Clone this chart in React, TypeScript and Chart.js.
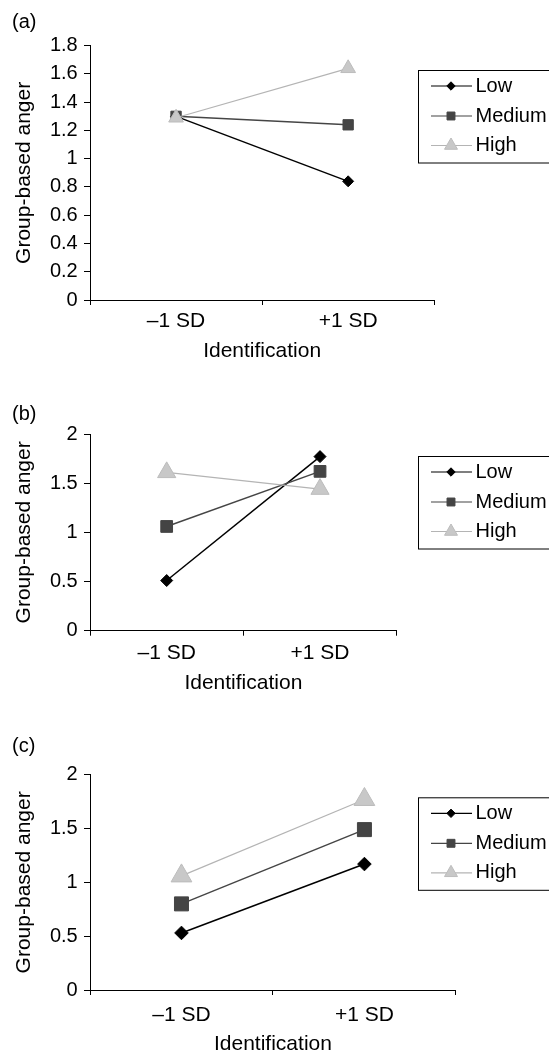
import React, { useEffect, useRef } from 'react';
import { Chart, registerables } from 'chart.js';

Chart.register(...registerables);

// ---------- data ----------
const CATEGORIES = ['\u20131 SD', '+1 SD'];
const SERIES_NAMES = ['Low', 'Medium', 'High'];
const X_TITLE = 'Identification';
const Y_TITLE = 'Group-based anger';
const PANEL_LABELS = ['(a)', '(b)', '(c)'];

const A_LOW = [1.3, 0.84];
const A_MEDIUM = [1.3, 1.24];
const A_HIGH = [1.29, 1.64];

const B_LOW = [0.51, 1.77];
const B_MEDIUM = [1.06, 1.62];
const B_HIGH = [1.61, 1.44];

const C_LOW = [0.53, 1.17];
const C_MEDIUM = [0.8, 1.49];
const C_HIGH = [1.06, 1.77];

const A_Y_TICKS = [0, 0.2, 0.4, 0.6, 0.8, 1, 1.2, 1.4, 1.6, 1.8];
const BC_Y_TICKS = [0, 0.5, 1, 1.5, 2];

// ---------- styles ----------
const FONT = '"Liberation Sans", Arial, Helvetica, sans-serif';
const PAGE_W = 549;

const STYLES = [
  { style: 'rectRot', line: '#000000', width: 1.5, fill: '#000000', stroke: '#000000', order: 2, legendR: 4.2 },
  { style: 'rect', line: '#454545', width: 1.5, fill: '#444444', stroke: '#444444', order: 1, legendR: 5.6 },
  { style: 'triangle', line: '#b4b4b4', width: 1.2, fill: '#c8c8c8', stroke: '#bcbcbc', order: 0, legendR: 7.5 },
];

const PANELS = [
  {
    label: PANEL_LABELS[0], series: [A_LOW, A_MEDIUM, A_HIGH], yTicks: A_Y_TICKS,
    top: 0, height: 370, areaTop: 45.7, areaBottom: 300, areaRight: 434.2,
    xTickPad: 3.8, titlePad: 7.8, legendTop: 70, labelTop: 10.5, radii: [5.5, 7.3, 8.5],
  },
  {
    label: PANEL_LABELS[1], series: [B_LOW, B_MEDIUM, B_HIGH], yTicks: BC_Y_TICKS,
    top: 370, height: 330, areaTop: 434, areaBottom: 630.7, areaRight: 396.7,
    xTickPad: 4.8, titlePad: 6.5, legendTop: 456, labelTop: 32.5, radii: [6, 8.3, 10.5],
  },
  {
    label: PANEL_LABELS[2], series: [C_LOW, C_MEDIUM, C_HIGH], yTicks: BC_Y_TICKS,
    top: 700, height: 355, areaTop: 774.7, areaBottom: 990, areaRight: 455.9,
    xTickPad: 7.2, titlePad: 0.2, legendTop: 797.3, labelTop: 34.5, radii: [6.8, 9.9, 12],
  },
];

const LEGEND_ROWS = [16, 46, 75.5];
const LEGEND_H = 92.5;

function drawMarker(ctx: CanvasRenderingContext2D, style: string, x: number, y: number, r: number, fill: string, stroke: string) {
  ctx.beginPath();
  if (style === 'rectRot') {
    ctx.moveTo(x, y - r);
    ctx.lineTo(x + r, y);
    ctx.lineTo(x, y + r);
    ctx.lineTo(x - r, y);
  } else if (style === 'rect') {
    const s = Math.SQRT1_2 * r;
    ctx.rect(x - s, y - s, 2 * s, 2 * s);
  } else {
    for (let k = 0; k < 3; k++) {
      const a = (k * 2 * Math.PI) / 3;
      const px = x + Math.sin(a) * r;
      const py = y - Math.cos(a) * r;
      if (k === 0) ctx.moveTo(px, py);
      else ctx.lineTo(px, py);
    }
  }
  ctx.closePath();
  ctx.fillStyle = fill;
  ctx.fill();
  ctx.strokeStyle = stroke;
  ctx.lineWidth = 1;
  ctx.stroke();
}

function fmt(v: number) {
  return String(Number(Number(v).toFixed(2)));
}

function Panel({ p }: { p: (typeof PANELS)[number] }) {
  const ref = useRef<HTMLCanvasElement | null>(null);
  useEffect(() => {
    if (!ref.current) return;
    const legendTop = p.legendTop - p.top;
    const legendPlugin = {
      id: 'boxLegend',
      afterDraw(chart: any) {
        const ctx = chart.ctx as CanvasRenderingContext2D;
        ctx.save();
        ctx.strokeStyle = '#000';
        ctx.lineWidth = 1;
        ctx.strokeRect(418.5, legendTop + 0.5, 200, LEGEND_H);
        chart.data.datasets.forEach((ds: any, i: number) => {
          const y = legendTop + LEGEND_ROWS[i];
          ctx.beginPath();
          ctx.strokeStyle = ds.borderColor;
          ctx.lineWidth = 1.2;
          ctx.moveTo(431, y);
          ctx.lineTo(472, y);
          ctx.stroke();
          drawMarker(ctx, ds.pointStyle, 451, y, STYLES[i].legendR, ds.pointBackgroundColor, ds.pointBorderColor);
          ctx.fillStyle = '#000';
          ctx.font = `20px ${FONT}`;
          ctx.textAlign = 'left';
          ctx.textBaseline = 'middle';
          ctx.fillText(ds.label, 475.5, y);
        });
        ctx.restore();
      },
    };
    const chart = new Chart(ref.current, {
      type: 'line',
      data: {
        labels: CATEGORIES,
        datasets: SERIES_NAMES.map((name, i) => ({
          label: name,
          data: p.series[i],
          borderColor: STYLES[i].line,
          borderWidth: STYLES[i].width,
          pointStyle: STYLES[i].style as any,
          pointRadius: p.radii[i],
          pointBackgroundColor: STYLES[i].fill,
          pointBorderColor: STYLES[i].stroke,
          pointBorderWidth: 1,
          tension: 0,
          order: STYLES[i].order,
          clip: false as any,
        })),
      },
      options: {
        responsive: false,
        animation: false,
        events: [],
        layout: {
          padding: { top: p.areaTop - p.top, right: PAGE_W - p.areaRight, left: 0, bottom: 0 },
        },
        plugins: {
          legend: { display: false },
          tooltip: { enabled: false },
          title: { display: false },
        },
        scales: {
          x: {
            type: 'category',
            offset: true,
            grid: { offset: true, drawOnChartArea: false, drawTicks: true, tickLength: 5, color: '#000', lineWidth: 1 },
            border: { display: true, color: '#000', width: 1 },
            ticks: {
              color: '#000',
              font: { family: FONT, size: 21, lineHeight: 1.2 },
              padding: p.xTickPad,
              maxRotation: 0,
              autoSkip: false,
            },
            title: {
              display: true,
              text: X_TITLE,
              color: '#000',
              font: { family: FONT, size: 21, lineHeight: 1 },
              padding: { top: 0, bottom: p.titlePad },
            },
            afterFit: (s: any) => {
              s.height = p.height - (p.areaBottom - p.top);
            },
          },
          y: {
            type: 'linear',
            min: p.yTicks[0],
            max: p.yTicks[p.yTicks.length - 1],
            afterBuildTicks: (s: any) => {
              s.ticks = p.yTicks.map((v) => ({ value: v }));
            },
            grid: { drawOnChartArea: false, drawTicks: true, tickLength: 6, color: '#000', lineWidth: 1 },
            border: { display: true, color: '#000', width: 1 },
            ticks: {
              color: '#000',
              font: { family: FONT, size: 20 },
              padding: 6.3,
              callback: (v: any) => fmt(v),
            },
            title: {
              display: true,
              text: Y_TITLE,
              color: '#000',
              font: { family: FONT, size: 21, lineHeight: 1 },
              padding: { top: 14, bottom: 0 },
            },
            afterFit: (s: any) => {
              s.width = 90;
            },
          },
        },
      } as any,
      plugins: [legendPlugin],
    });
    return () => chart.destroy();
  }, [p]);

  return (
    <div style={{ position: 'absolute', left: 0, top: p.top, width: PAGE_W, height: p.height }}>
      <canvas ref={ref} width={PAGE_W} height={p.height} style={{ display: 'block', width: PAGE_W, height: p.height }} />
      <div
        style={{
          position: 'absolute',
          left: 12,
          top: p.labelTop,
          fontFamily: FONT,
          fontSize: 20,
          lineHeight: '20px',
          color: '#000',
        }}
      >
        {p.label}
      </div>
    </div>
  );
}

export default function App() {
  return (
    <div style={{ position: 'absolute', left: 0, top: 0, width: PAGE_W, height: 1055, background: '#fff', overflow: 'hidden' }}>
      {PANELS.map((p) => (
        <Panel key={p.label} p={p} />
      ))}
    </div>
  );
}
